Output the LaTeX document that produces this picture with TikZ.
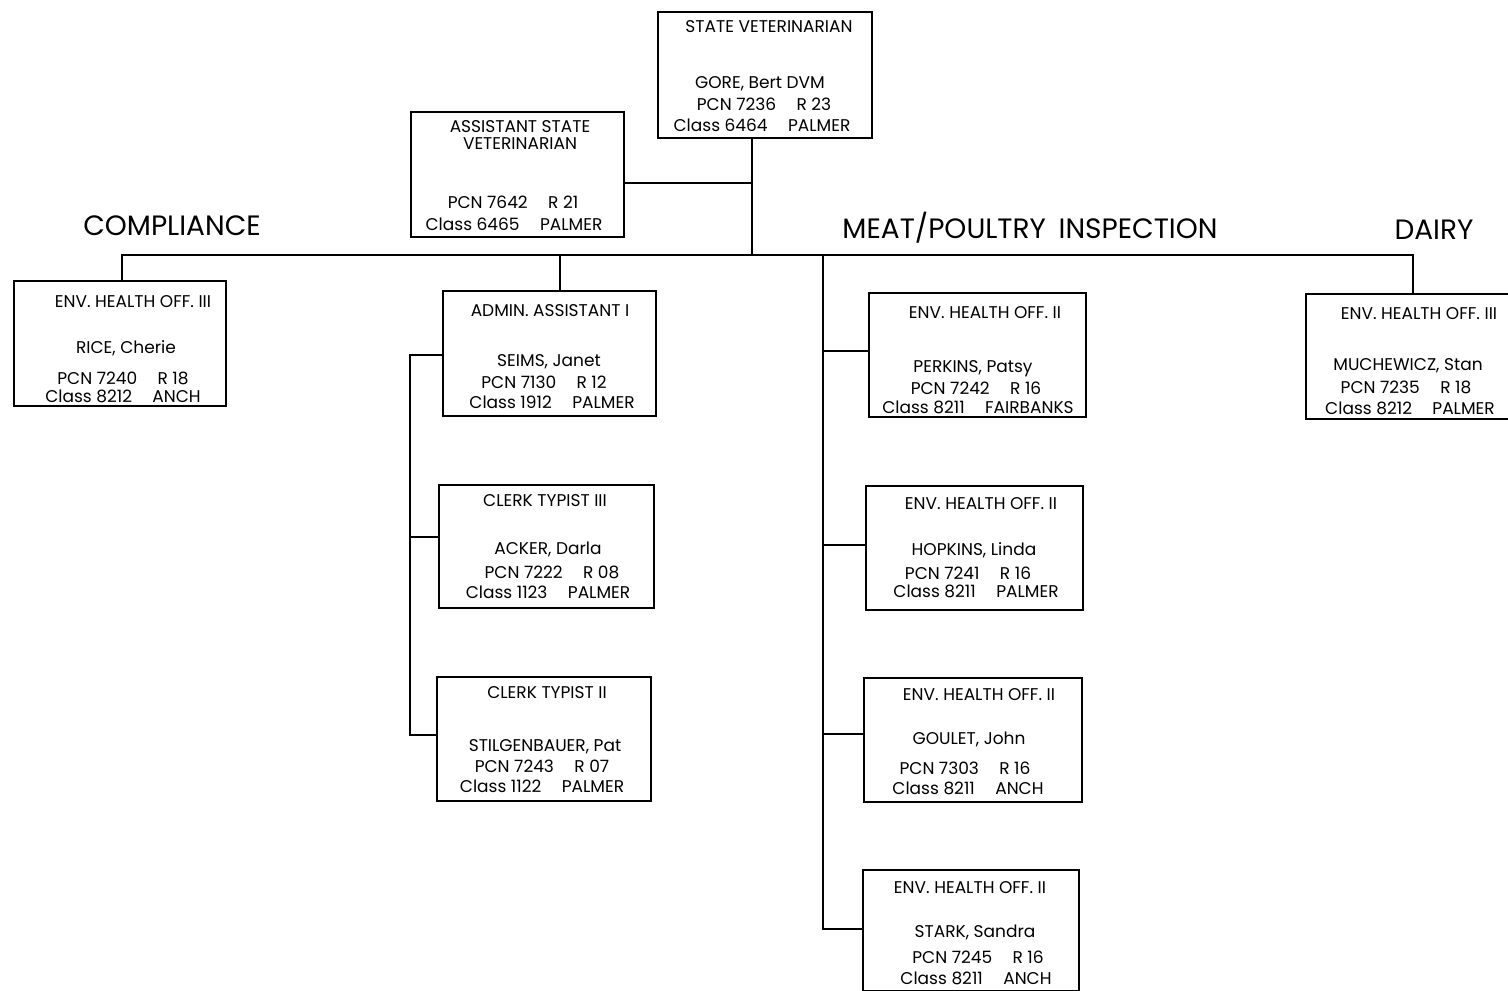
\documentclass[tikz,border=0pt]{standalone}
\usepackage{fontspec}
\newfontfamily\cad{Poppins}
\newcommand{\gap}{\hspace{1.2em}}
\begin{document}
\begin{tikzpicture}[x=1pt,y=-1pt,
  card/.style={draw, line width=1.7pt, inner sep=0pt, anchor=north west},
  wire/.style={draw, line width=1.7pt},
  txt/.style={font=\cad\fontsize{17}{19}\selectfont, inner sep=0pt, anchor=base},
  head/.style={font=\cad\fontsize{28}{31}\selectfont, inner sep=0pt, anchor=base}]
\useasboundingbox (0,0) rectangle (1508,991);
\fill[white] (0,0) rectangle (1508,991);
% boxes
\node[card, minimum width=214, minimum height=126] (sv) at (657,11) {};
\node[card, minimum width=213, minimum height=125] (asv) at (410,111) {};
\node[card, minimum width=212, minimum height=125] (comp) at (13,280) {};
\node[card, minimum width=213, minimum height=125] (adm) at (442,290) {};
\node[card, minimum width=215, minimum height=123] (ct3) at (438,484) {};
\node[card, minimum width=214, minimum height=124] (ct2) at (436,676) {};
\node[card, minimum width=217, minimum height=124] (per) at (868,292) {};
\node[card, minimum width=217, minimum height=124] (hop) at (865,485) {};
\node[card, minimum width=218, minimum height=124] (gou) at (863,677) {};
\node[card, minimum width=216, minimum height=121] (sta) at (862,869) {};
\node[card, minimum width=210, minimum height=125] (dai) at (1305,293) {};
% coordinates
\coordinate (bus) at (752,255);
\coordinate (ja) at (752,183);
\coordinate (cC) at (122,255);
\coordinate (cD) at (1413,255);
\coordinate (cA) at (560,255);
\coordinate (cM) at (823,255);
\coordinate (m1) at (823,351);
\coordinate (m2) at (823,545);
\coordinate (m3) at (823,734);
\coordinate (mE) at (823,929);
\coordinate (a0) at (410,355);
\coordinate (a1) at (410,537);
\coordinate (a2) at (410,735);
% connectors
\draw[wire] (sv.south -| bus) -- (bus);
\draw[wire] (asv.east |- ja) -- (ja);
\draw[wire] (comp.north -| cC) -- (cC) -- (cD) -- (dai.north -| cD);
\draw[wire] (cA) -- (adm.north -| cA);
\draw[wire] (cM) -- (mE) -- (sta.west |- mE);
\draw[wire] (m1) -- (per.west |- m1);
\draw[wire] (m2) -- (hop.west |- m2);
\draw[wire] (m3) -- (gou.west |- m3);
\draw[wire] (adm.west |- a0) -- (a0) -- (a2) -- (ct2.west |- a2);
\draw[wire] (a1) -- (ct3.west |- a1);
% headings
\node[head] (hC) at (172,235) {COMPLIANCE};
\node[head] (hM) at (1030,238) {MEAT/POULTRY\hspace{0.45em}INSPECTION};
\node[head] (hD) at (1434,239) {DAIRY};
% texts
\node[txt] (sv1) at (769,32) {STATE VETERINARIAN};
\node[txt] (sv2) at (760,88) {GORE, Bert DVM};
\node[txt] (sv3) at (764,110) {PCN 7236\gap R 23};
\node[txt] (sv4) at (762,131) {Class 6464\gap PALMER};
\node[txt] (asv1) at (520,132) {ASSISTANT STATE};
\node[txt] (asv2) at (520,149) {VETERINARIAN};
\node[txt] (asv3) at (513,208) {PCN 7642\gap R 21};
\node[txt] (asv4) at (514,230) {Class 6465\gap PALMER};
\node[txt] (comp1) at (133,307) {ENV. HEALTH OFF. III};
\node[txt] (comp2) at (126,353) {RICE, Cherie};
\node[txt] (comp3) at (123,384) {PCN 7240\gap R 18};
\node[txt] (comp4) at (123,402) {Class 8212\gap ANCH};
\node[txt] (adm1) at (550,316) {ADMIN. ASSISTANT I};
\node[txt] (adm2) at (549,366) {SEIMS, Janet};
\node[txt] (adm3) at (544,388) {PCN 7130\gap R 12};
\node[txt] (adm4) at (552,408) {Class 1912\gap PALMER};
\node[txt] (ct31) at (545,506) {CLERK TYPIST III};
\node[txt] (ct32) at (548,554) {ACKER, Darla};
\node[txt] (ct33) at (552,578) {PCN 7222\gap R 08};
\node[txt] (ct34) at (548,598) {Class 1123\gap PALMER};
\node[txt] (ct21) at (547,698) {CLERK TYPIST II};
\node[txt] (ct22) at (545,751) {STILGENBAUER, Pat};
\node[txt] (ct23) at (542,772) {PCN 7243\gap R 07};
\node[txt] (ct24) at (542,792) {Class 1122\gap PALMER};
\node[txt] (per1) at (985,318) {ENV. HEALTH OFF. II};
\node[txt] (per2) at (973,372) {PERKINS, Patsy};
\node[txt] (per3) at (976,394) {PCN 7242\gap R 16};
\node[txt] (per4) at (978,413) {Class 8211\gap FAIRBANKS};
\node[txt] (hop1) at (981,509) {ENV. HEALTH OFF. II};
\node[txt] (hop2) at (974,555) {HOPKINS, Linda};
\node[txt] (hop3) at (968,579) {PCN 7241\gap R 16};
\node[txt] (hop4) at (976,597) {Class 8211\gap PALMER};
\node[txt] (gou1) at (979,700) {ENV. HEALTH OFF. II};
\node[txt] (gou2) at (969,744) {GOULET, John};
\node[txt] (gou3) at (965,774) {PCN 7303\gap R 16};
\node[txt] (gou4) at (968,794) {Class 8211\gap ANCH};
\node[txt] (sta1) at (970,893) {ENV. HEALTH OFF. II};
\node[txt] (sta2) at (975,937) {STARK, Sandra};
\node[txt] (sta3) at (978,963) {PCN 7245\gap R 16};
\node[txt] (sta4) at (976,984) {Class 8211\gap ANCH};
\node[txt] (dai1) at (1419,319) {ENV. HEALTH OFF. III};
\node[txt] (dai2) at (1408,370) {MUCHEWICZ, Stan};
\node[txt] (dai3) at (1406,393) {PCN 7235\gap R 18};
\node[txt] (dai4) at (1410,414) {Class 8212\gap PALMER};
\end{tikzpicture}
\end{document}
